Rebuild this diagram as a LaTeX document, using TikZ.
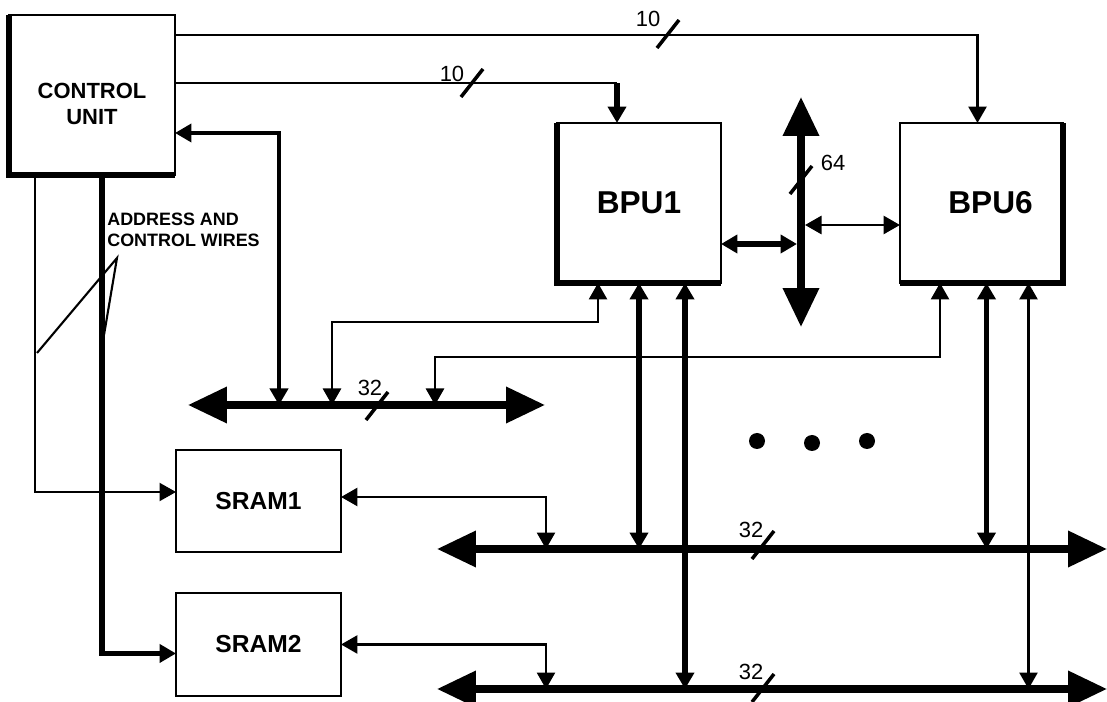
\documentclass[tikz,border=0pt]{standalone}
\usepackage{fontspec}
\setmainfont{Liberation Sans}
\usetikzlibrary{arrows.meta,calc,positioning}

\begin{document}
\begin{tikzpicture}[
    x=0.02cm, y=-0.02cm,
    >={Triangle[length=3.3mm,width=3.6mm]},
    box/.style={rectangle,draw,line width=1.6pt,inner sep=0pt,outer sep=0pt,align=center},
    shade/.style={line width=3.2pt},
    big/.style={font=\bfseries\fontsize{18}{21}\selectfont},
    mid/.style={font=\bfseries\fontsize{14}{17}\selectfont},
    sml/.style={font=\bfseries\fontsize{12.5}{15}\selectfont},
    note/.style={font=\bfseries\fontsize{10.2}{11.9}\selectfont,inner sep=0pt,align=left},
    num/.style={font=\fontsize{12.5}{15}\selectfont,inner sep=0pt},
    wire/.style={line width=1.6pt},
    thinwire/.style={line width=1.2pt},
    midwire/.style={line width=2.2pt},
    bold/.style={line width=3pt},
    bus/.style={line width=4pt,{Triangle[length=7.8mm,width=7mm]}-{Triangle[length=7.8mm,width=7mm]}},
    slash/.style={line width=2pt}
  ]
    \useasboundingbox (0,0) rectangle (1107,702);

    \node[box,minimum width=3.32cm,minimum height=3.2cm,
          label={[sml,align=center,yshift=-0.18cm]center:CONTROL\\UNIT}] (cu) at (92,95) {};
    \node[box,big,minimum width=3.28cm,minimum height=3.2cm] (bpu1) at (639,203) {BPU1};
    \node[box,minimum width=3.26cm,minimum height=3.2cm,
          label={[big,xshift=0.18cm]center:BPU6}] (bpu6) at (981.5,203) {};
    \node[box,mid,minimum width=3.3cm,minimum height=2.04cm] (sram1) at (258.5,501) {SRAM1};
    \node[box,mid,minimum width=3.3cm,minimum height=2.06cm,below=0.82cm of sram1] (sram2) {SRAM2};
    \node[note,anchor=north west] (addr) at (107,213) {ADDRESS AND\\CONTROL WIRES};

    \draw[shade] (cu.north west) -- (cu.south west) -- (cu.south east);
    \draw[shade] (bpu1.north west) -- (bpu1.south west) -- (bpu1.south east);
    \draw[shade] (bpu6.north east) -- (bpu6.south east) -- (bpu6.south west);

    \coordinate (cL) at (188,405);
    \coordinate (cR) at (545,405);
    \coordinate (aL) at (437,549);
    \coordinate (aR) at (1107,549);
    \coordinate (bL) at (437,689);
    \coordinate (bR) at (1107,689);
    \coordinate (vT) at (801,97);
    \coordinate (vB) at (801,327);
    \draw[bus] (cL) -- (cR);
    \draw[bus] (aL) -- (aR);
    \draw[bus] (bL) -- (bR);
    \draw[bus] (vT) -- (vB);

    \coordinate (c1) at (279,405);
    \coordinate (c2) at (332,405);
    \coordinate (c3) at (435,405);
    \coordinate (s1) at (546,549);
    \coordinate (s2) at (546,689);
    \coordinate (v1) at (797,244);
    \coordinate (v2) at (805,225);
    \coordinate (k1) at ($(bpu1.north)+(-22,-40)$);
    \coordinate (p1) at ($(bpu1.south)+(46,0)$);
    \coordinate (p2) at ($(bpu6.south)+(5,0)$);
    \coordinate (p3) at ($(bpu6.south)+(47,0)$);

    \draw[wire,->] ($(cu.north east)+(0,20)$) -| ($(bpu6.north)+(-4,0)$);
    \draw[wire] ($(cu.north east)+(0,68)$) -- (k1);
    \draw[bold,->] (k1) -- (k1 |- bpu1.north);
    \draw[midwire,<->] ($(cu.south east)+(0,-42)$) -| (c1);
    \draw[wire,<->] (c2) -- ++(0,-83) -| ($(bpu1.south west)+(41,0)$);
    \draw[wire,<->] (c3) -- ++(0,-48) -| ($(bpu6.south west)+(40,0)$);
    \draw[bold,<->] (bpu1.south) -- (bpu1.south |- aL);
    \draw[bold,<->] (p1) -- (p1 |- bL);
    \draw[bold,<->] (p2) -- (p2 |- aL);
    \draw[wire,<->] (p3) -- (p3 |- bL);
    \draw[bold,<->] ($(bpu1.east)+(0,41)$) -- (v1);
    \draw[wire,<->] (v2) -- ($(bpu6.west)+(0,22)$);
    \draw[wire,<->] ($(sram1.east)+(0,-4)$) -| (s1);
    \draw[wire,<->] (sram2.east) -| (s2);
    \draw[thinwire,->] ($(cu.south west)+(26,0)$) |- ($(sram1.west)+(0,-9)$);
    \draw[bold,->] ($(cu.south west)+(93,0)$) |- ($(sram2.west)+(0,9)$);

    \coordinate (tip) at (117,258);
    \coordinate (q1) at (37,353);
    \coordinate (q2) at (104,335);
    \draw[thinwire] (q1) -- (tip) -- (q2);

    \foreach \n/\sx/\sy/\tx/\ty/\txt in {t/668/34/648/19/10, s/472/83/452/74/10,
        c/377/406/370/388/32, v/801/180/833/163/64, a/763/545/751/530/32, b/763/688/751/672/32} {
      \draw[slash] (\sx-11,\sy+14) -- (\sx+11,\sy-14);
      \node[num] (w\n) at (\tx,\ty) {\txt};
    }

    \foreach \dx/\dy in {757/441,812/443,867/441}
      \fill (\dx,\dy) circle[radius=0.16cm];
  \end{tikzpicture}
\end{document}
